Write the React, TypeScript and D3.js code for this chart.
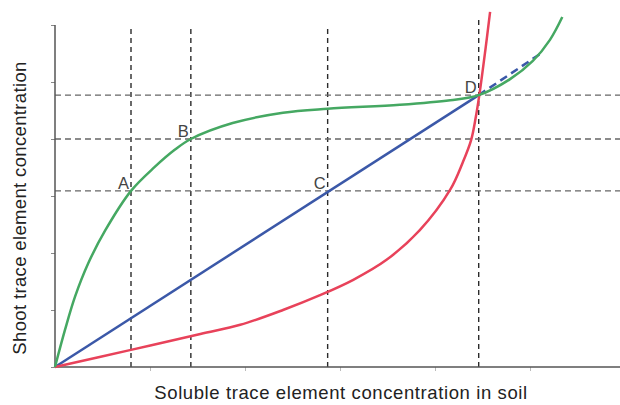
import React, { useEffect, useRef } from 'react';
import * as d3 from 'd3';

// values, in axis units (0..6 each way)
const greenX = [0, 0.105, 0.21, 0.35, 0.53, 0.8, 1.05, 1.26, 1.43, 1.87, 2.4, 2.87, 3.63, 4.16, 4.46, 4.79, 5.03, 5.21, 5.34];
const greenY = [0, 0.65, 1.23, 1.82, 2.4, 3.09, 3.51, 3.81, 4.0, 4.28, 4.46, 4.53, 4.6, 4.68, 4.77, 5.05, 5.37, 5.74, 6.14];
const redX = [0, 0.8, 1.53, 1.95, 2.4, 2.79, 3.14, 3.49, 3.84, 4.16, 4.29, 4.38, 4.43, 4.47, 4.53, 4.58];
const redY = [0, 0.3, 0.58, 0.74, 1.0, 1.26, 1.53, 1.88, 2.4, 3.11, 3.58, 3.98, 4.39, 4.81, 5.56, 6.23];
const blueX = [0, 4.46];
const blueY = [0, 4.77];
const blueDashX = [4.46, 5.14];
const blueDashY = [4.77, 5.53];

const pointNames = ['A', 'B', 'C', 'D'];
const pointX = [0.8, 1.43, 2.87, 4.46];
const pointY = [3.09, 4.0, 3.09, 4.77];

const xTicks = [1, 2, 3, 4, 5];
const yTicks = [0, 1, 2, 3, 4, 5, 6];

const width = 620;
const height = 405;

const App = () => {
  const ref = useRef<SVGSVGElement>(null);

  useEffect(() => {
    const svg = d3.select(ref.current);
    svg.selectAll('*').remove();

    const x = d3.scaleLinear().domain([0, 6]).range([55, 625]);
    const y = d3.scaleLinear().domain([0, 6]).range([367, 25]);

    const line = d3
      .line<[number, number]>()
      .x((d) => x(d[0]))
      .y((d) => y(d[1]))
      .curve(d3.curveCatmullRom.alpha(0.5));

    const zip = (xs: number[], ys: number[]) =>
      xs.map((v, i) => [v, ys[i]] as [number, number]);

    // guide lines
    const guides = svg.append('g');
    pointX.forEach((px, i) => {
      guides
        .append('line')
        .attr('x1', x(px))
        .attr('x2', x(px))
        .attr('y1', y(0))
        .attr('y2', i === 3 ? y(6.1) : y(6))
        .attr('stroke', '#2b2b2b')
        .attr('stroke-width', 1.4)
        .attr('stroke-dasharray', '5,4');
    });
    Array.from(new Set(pointY)).forEach((py) => {
      guides
        .append('line')
        .attr('x1', x(0))
        .attr('x2', width)
        .attr('y1', y(py))
        .attr('y2', y(py))
        .attr('stroke', '#666')
        .attr('stroke-width', 1.4)
        .attr('stroke-dasharray', '6,4');
    });

    // axes
    const xAxis = d3.axisBottom(x).tickValues(xTicks).tickFormat(() => '').tickSize(4);
    const gx = svg.append('g').attr('transform', `translate(0,${y(0)})`).call(xAxis);
    gx.select('.domain').remove();
    gx.selectAll('line').attr('stroke', '#bbb');
    svg
      .append('line')
      .attr('x1', x(0))
      .attr('x2', width)
      .attr('y1', y(0))
      .attr('y2', y(0))
      .attr('stroke', '#555')
      .attr('stroke-width', 1.5);

    const yAxis = d3.axisLeft(y).tickValues(yTicks).tickFormat(() => '').tickSize(4);
    const gy = svg.append('g').attr('transform', `translate(${x(0)},0)`).call(yAxis);
    gy.select('.domain').remove();
    gy.selectAll('line').attr('stroke', '#888');
    svg
      .append('line')
      .attr('x1', x(0))
      .attr('x2', x(0))
      .attr('y1', y(6))
      .attr('y2', y(0))
      .attr('stroke', '#555')
      .attr('stroke-width', 1.5);

    // curves
    svg
      .append('path')
      .attr('d', line(zip(blueX, blueY)))
      .attr('fill', 'none')
      .attr('stroke', '#3b58a8')
      .attr('stroke-width', 2.5);
    svg
      .append('path')
      .attr('d', line(zip(blueDashX, blueDashY)))
      .attr('fill', 'none')
      .attr('stroke', '#3b58a8')
      .attr('stroke-width', 2.5)
      .attr('stroke-dasharray', '8,5');
    svg
      .append('path')
      .attr('d', line(zip(redX, redY)))
      .attr('fill', 'none')
      .attr('stroke', '#e8425a')
      .attr('stroke-width', 2.5);
    svg
      .append('path')
      .attr('d', line(zip(greenX, greenY)))
      .attr('fill', 'none')
      .attr('stroke', '#45a862')
      .attr('stroke-width', 2.5);

    // point labels
    svg
      .selectAll('text.pt')
      .data(pointNames)
      .join('text')
      .attr('class', 'pt')
      .attr('x', (d, i) => x(pointX[i]) - 2)
      .attr('y', (d, i) => y(pointY[i]) - 2)
      .attr('text-anchor', 'end')
      .attr('font-family', 'Liberation Sans, Arial, sans-serif')
      .attr('font-size', 16.5)
      .attr('fill', '#444')
      .text((d) => d);

    // axis titles
    svg
      .append('text')
      .attr('x', 341)
      .attr('y', 399)
      .attr('text-anchor', 'middle')
      .attr('font-family', 'Liberation Sans, Arial, sans-serif')
      .attr('font-size', 18.5)
      .attr('letter-spacing', 0.6)
      .attr('fill', '#222')
      .text('Soluble trace element concentration in soil');
    svg
      .append('text')
      .attr('transform', 'translate(26,208) rotate(-90)')
      .attr('text-anchor', 'middle')
      .attr('font-family', 'Liberation Sans, Arial, sans-serif')
      .attr('font-size', 18.5)
      .attr('letter-spacing', 0.35)
      .attr('fill', '#222')
      .text('Shoot trace element concentration');
  }, []);

  return (
    <svg
      ref={ref}
      width={width}
      height={height}
      style={{ position: 'absolute', left: 0, top: 0, background: '#fff' }}
    />
  );
};

export default App;
